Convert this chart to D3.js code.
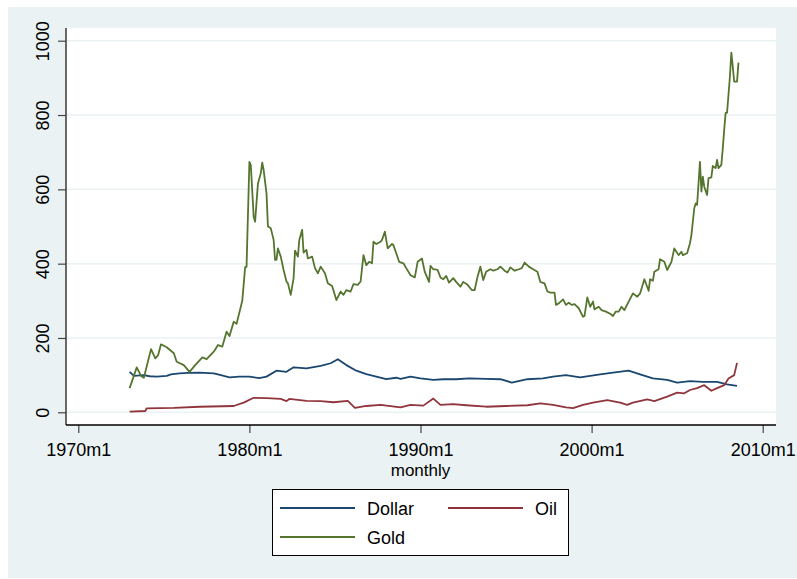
<!DOCTYPE html>
<html>
<head>
<meta charset="utf-8">
<script src="https://cdn.jsdelivr.net/npm/d3@7"></script>
<style>
  html, body { margin: 0; padding: 0; background: #fff; }
  svg { display: block; font-family: "Liberation Sans", Arial, Helvetica, sans-serif; }
</style>
</head>
<body>
<div id="chart"></div>
<script>
// monthly series, [month, value]
var dollar = [
  ['1973m1', 109], ['1973m4', 98], ['1973m11', 100], ['1974m3', 97], ['1974m8', 96], ['1975m3', 98],
  ['1975m6', 102], ['1975m12', 105], ['1976m6', 106], ['1977m2', 107], ['1977m12', 105], ['1978m5', 100],
  ['1978m11', 94], ['1979m6', 96], ['1980m1', 96], ['1980m8', 92], ['1981m1', 96], ['1981m8', 112],
  ['1982m3', 109], ['1982m8', 121], ['1983m5', 118], ['1984m3', 125], ['1984m10', 132],
  ['1985m3', 143], ['1985m9', 127], ['1986m4', 112], ['1986m11', 103], ['1987m6', 96],
  ['1988m1', 89], ['1988m8', 93], ['1988m11', 90], ['1989m6', 96], ['1990m1', 91.5],
  ['1990m10', 87], ['1991m5', 89], ['1992m2', 89], ['1992m11', 91.5], ['1993m11', 90],
  ['1994m9', 89], ['1995m5', 80], ['1996m4', 89], ['1997m3', 91.5], ['1997m10', 96],
  ['1998m7', 100], ['1999m5', 94], ['1999m12', 98], ['2000m7', 102], ['2001m4', 107],
  ['2002m3', 112], ['2002m11', 102], ['2003m8', 91.5], ['2004m6', 87], ['2005m1', 80],
  ['2005m10', 84], ['2006m7', 82], ['2007m5', 82], ['2007m12', 75], ['2008m7', 71]
];
var oil = [
  ['1973m1', 2], ['1973m12', 3.5], ['1974m1', 10.8], ['1975m8', 12], ['1977m2', 15],
  ['1979m2', 17], ['1979m9', 26], ['1980m4', 39], ['1981m1', 38], ['1981m11', 36],
  ['1982m3', 30], ['1982m5', 36], ['1983m5', 31], ['1984m3', 30], ['1984m12', 27],
  ['1985m10', 31], ['1986m3', 12], ['1986m11', 17], ['1987m9', 20], ['1988m11', 13],
  ['1989m6', 20], ['1990m3', 18], ['1990m10', 37], ['1991m3', 20], ['1991m12', 22],
  ['1992m9', 19], ['1993m11', 15], ['1995m1', 17], ['1996m4', 19], ['1997m1', 24],
  ['1997m10', 20], ['1998m7', 13], ['1998m12', 11], ['1999m7', 20], ['2000m2', 26],
  ['2000m12', 33], ['2001m9', 26], ['2002m2', 20], ['2002m6', 26], ['2003m4', 35],
  ['2003m9', 30], ['2004m6', 42], ['2005m1', 53], ['2005m6', 51], ['2005m10', 60],
  ['2006m3', 65], ['2006m8', 73], ['2007m1', 58], ['2007m5', 65], ['2007m10', 73],
  ['2008m1', 91], ['2008m5', 100], ['2008m7', 133]
];
var gold = [
  ['1973m1', 65], ['1973m6', 121], ['1973m9', 98], ['1973m11', 93], ['1974m4', 170],
  ['1974m7', 145], ['1974m9', 154], ['1974m11', 183], ['1975m3', 175], ['1975m8', 159],
  ['1975m10', 136], ['1976m3', 127], ['1976m7', 109], ['1976m11', 127], ['1977m4', 148],
  ['1977m7', 143], ['1977m12', 163], ['1978m3', 181], ['1978m6', 177], ['1978m9', 217],
  ['1978m11', 205], ['1979m2', 244], ['1979m4', 238], ['1979m8', 300], ['1979m10', 390],
  ['1979m11', 392], ['1980m1', 674], ['1980m2', 665], ['1980m4', 526], ['1980m5', 513],
  ['1980m7', 616], ['1980m8', 630], ['1980m9', 643], ['1980m10', 672], ['1980m11', 652],
  ['1981m1', 589], ['1981m2', 500], ['1981m4', 495], ['1981m6', 464], ['1981m7', 410],
  ['1981m8', 410], ['1981m9', 441], ['1981m11', 419], ['1982m1', 383], ['1982m3', 352],
  ['1982m4', 347], ['1982m6', 316], ['1982m8', 361], ['1982m9', 435], ['1982m11', 419],
  ['1982m12', 464], ['1983m2', 491], ['1983m3', 430], ['1983m5', 437], ['1983m6', 414],
  ['1983m9', 419], ['1983m11', 388], ['1984m1', 374], ['1984m3', 392], ['1984m6', 374],
  ['1984m8', 347], ['1984m11', 340], ['1985m2', 302], ['1985m5', 325], ['1985m7', 316],
  ['1985m9', 329], ['1985m12', 325], ['1986m2', 345], ['1986m5', 343], ['1986m7', 352],
  ['1986m9', 423], ['1986m11', 396], ['1987m1', 405], ['1987m3', 401], ['1987m4', 459],
  ['1987m6', 453], ['1987m9', 459], ['1987m10', 464], ['1987m12', 486], ['1988m2', 441],
  ['1988m5', 453], ['1988m6', 450], ['1988m8', 428], ['1988m10', 405], ['1989m1', 401],
  ['1989m3', 388], ['1989m6', 369], ['1989m9', 363], ['1989m11', 405], ['1990m2', 414],
  ['1990m4', 378], ['1990m7', 351], ['1990m8', 394], ['1990m10', 385], ['1991m1', 383],
  ['1991m3', 363], ['1991m5', 358], ['1991m7', 367], ['1991m9', 349], ['1991m12', 361],
  ['1992m2', 351], ['1992m5', 338], ['1992m7', 351], ['1992m10', 343], ['1993m1', 329],
  ['1993m3', 329], ['1993m5', 365], ['1993m7', 392], ['1993m9', 356], ['1993m11', 378],
  ['1994m2', 385], ['1994m4', 381], ['1994m7', 385], ['1994m9', 392], ['1994m12', 381],
  ['1995m2', 376], ['1995m4', 390], ['1995m7', 381], ['1995m10', 385], ['1995m12', 388],
  ['1996m2', 403], ['1996m5', 392], ['1996m8', 385], ['1996m11', 378], ['1997m1', 351],
  ['1997m4', 347], ['1997m6', 325], ['1997m8', 322], ['1997m11', 322], ['1997m12', 289],
  ['1998m2', 293], ['1998m5', 304], ['1998m7', 289], ['1998m9', 295], ['1998m11', 289],
  ['1999m1', 291], ['1999m4', 280], ['1999m7', 257], ['1999m8', 259], ['1999m10', 309],
  ['1999m12', 284], ['2000m2', 298], ['2000m3', 277], ['2000m6', 284], ['2000m8', 275],
  ['2000m11', 271], ['2001m2', 265], ['2001m4', 259], ['2001m6', 271], ['2001m8', 271],
  ['2001m10', 284], ['2001m12', 275], ['2002m3', 298], ['2002m6', 320], ['2002m9', 311],
  ['2002m11', 320], ['2003m2', 358], ['2003m5', 327], ['2003m6', 358], ['2003m8', 354],
  ['2003m9', 378], ['2003m12', 385], ['2004m1', 412], ['2004m4', 405], ['2004m6', 383],
  ['2004m9', 405], ['2004m11', 441], ['2005m2', 423], ['2005m4', 432], ['2005m5', 423],
  ['2005m8', 428], ['2005m10', 455], ['2005m11', 477], ['2006m1', 549], ['2006m2', 562],
  ['2006m3', 558], ['2006m5', 674], ['2006m6', 594], ['2006m7', 634], ['2006m8', 607],
  ['2006m10', 585], ['2006m11', 630], ['2007m1', 632], ['2007m2', 663], ['2007m4', 657],
  ['2007m5', 679], ['2007m6', 657], ['2007m8', 666], ['2007m9', 710], ['2007m10', 760],
  ['2007m11', 806], ['2007m12', 806], ['2008m2', 903], ['2008m3', 968], ['2008m4', 930],
  ['2008m5', 890], ['2008m7', 890], ['2008m8', 941]
];
var xTicks = [1970, 1980, 1990, 2000, 2010];
var yTicks = [0, 200, 400, 600, 800, 1000];
var seriesNames = ['Dollar', 'Oil', 'Gold'];
var seriesColors = ['#1a476f', '#90353b', '#55752f'];

// '1980m1' -> 1980.0
function parseMonth(s) {
  var p = s.split('m');
  return +p[0] + (+p[1] - 1) / 12;
}

var width = 797, height = 579;
var plot = { left: 66, right: 776, top: 28, bottom: 425 };
var bg = '#eaf2f3';

var svg = d3.select('#chart').append('svg')
  .attr('width', width)
  .attr('height', height);

// graph region and plot region
svg.append('rect')
  .attr('x', 8).attr('y', 7)
  .attr('width', width - 8).attr('height', 571)
  .style('fill', bg);
svg.append('rect')
  .attr('x', plot.left).attr('y', plot.top)
  .attr('width', plot.right - plot.left).attr('height', plot.bottom - plot.top)
  .style('fill', '#fff');

var x = d3.scaleLinear().domain([1970, 2010]).range([78.3, 762.7]);
var y = d3.scaleLinear().domain([0, 1000]).range([412.3, 40.7]);

// gridlines
svg.append('g')
  .selectAll('line')
  .data(yTicks)
  .enter().append('line')
  .attr('x1', plot.left).attr('x2', plot.right)
  .attr('y1', function (d) { return y(d); })
  .attr('y2', function (d) { return y(d); })
  .style('stroke', bg)
  .style('stroke-width', 1.5);

var line = d3.line()
  .x(function (d) { return x(parseMonth(d[0])); })
  .y(function (d) { return y(d[1]); });

[dollar, oil, gold].forEach(function (series, i) {
  svg.append('path')
    .datum(series)
    .attr('d', line)
    .style('fill', 'none')
    .style('stroke', seriesColors[i])
    .style('stroke-width', 1.8)
    .style('stroke-linejoin', 'round');
});

// y axis
var yAxis = svg.append('g')
  .attr('transform', 'translate(' + plot.left + ',0)')
  .call(d3.axisLeft(y).tickValues(yTicks).tickSize(8).tickSizeOuter(0).tickPadding(0)
    .tickFormat(d3.format('d')));
yAxis.select('.domain').remove();
yAxis.append('line')
  .attr('x1', 0).attr('x2', 0)
  .attr('y1', plot.top).attr('y2', plot.bottom)
  .style('stroke', '#444')
  .style('stroke-width', 1.6);
yAxis.selectAll('.tick line').style('stroke', '#444').style('stroke-width', 1.2);
yAxis.selectAll('.tick text')
  .attr('x', null).attr('dy', null)
  .attr('transform', 'translate(-17,0) rotate(-90)')
  .attr('text-anchor', 'middle')
  .style('font-size', '18px')
  .style('fill', '#000')
  .style('font-family', null);

// x axis
var xAxis = svg.append('g')
  .attr('transform', 'translate(0,' + plot.bottom + ')')
  .call(d3.axisBottom(x).tickValues(xTicks).tickSize(8).tickSizeOuter(0)
    .tickFormat(function (d) { return d + 'm1'; }));
xAxis.select('.domain').remove();
xAxis.append('line')
  .attr('x1', plot.left).attr('x2', plot.right)
  .style('stroke', '#000')
  .style('stroke-width', 1.4);
xAxis.selectAll('.tick line').style('stroke', '#444').style('stroke-width', 1.2);
xAxis.selectAll('.tick text')
  .attr('y', 31).attr('dy', null)
  .style('font-size', '18px')
  .style('fill', '#000')
  .style('font-family', null);

svg.append('text')
  .attr('x', x(1990)).attr('y', 476)
  .attr('text-anchor', 'middle')
  .style('font-size', '17px')
  .text('monthly');

// legend
var legend = svg.append('g');
legend.append('rect')
  .attr('x', 272.5).attr('y', 489.5)
  .attr('width', 296).attr('height', 66)
  .style('fill', '#fff')
  .style('stroke', '#000')
  .style('stroke-width', 1);
var keys = [
  { x: 280, y: 508, tx: 367 },
  { x: 448, y: 508, tx: 535 },
  { x: 280, y: 537, tx: 367 }
];
seriesNames.forEach(function (name, i) {
  var k = keys[i];
  legend.append('line')
    .attr('x1', k.x).attr('x2', k.x + 75)
    .attr('y1', k.y).attr('y2', k.y)
    .style('stroke', seriesColors[i])
    .style('stroke-width', 1.8);
  legend.append('text')
    .attr('x', k.tx).attr('y', k.y + 6.5)
    .style('font-size', '18px')
    .text(name);
});
</script>
</body>
</html>
